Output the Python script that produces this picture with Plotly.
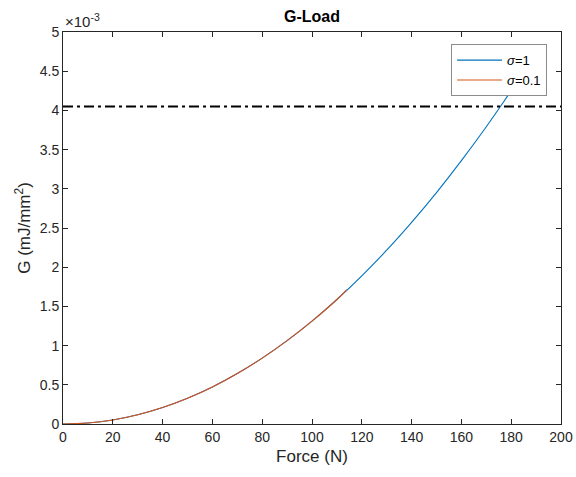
import plotly.graph_objects as go

# Force (N)
force_s1 = [0, 10, 20, 30, 40, 50, 60, 70, 80, 90, 100, 110, 120, 130, 140, 150, 160, 170, 180, 182]
# G (x1e-3 mJ/mm^2), sigma = 1
g_s1 = [0, 0.013, 0.052, 0.118, 0.21, 0.328, 0.472, 0.643, 0.84, 1.063, 1.312, 1.588, 1.89,
        2.217, 2.572, 2.952, 3.359, 3.792, 4.25, 4.34]
# sigma = 0.1
force_s01 = [0, 10, 20, 30, 40, 50, 60, 70, 80, 90, 100, 110, 114]
g_s01 = [0, 0.013, 0.052, 0.118, 0.21, 0.328, 0.472, 0.643, 0.84, 1.063, 1.312, 1.588, 1.715]
# critical G level
g_crit = 4.05
x_range = [0, 200]

x_ticks = list(range(0, 201, 20))
y_ticks = [0, 0.5, 1, 1.5, 2, 2.5, 3, 3.5, 4, 4.5, 5]
y_ticktext = ["0", "0.5", "1", "1.5", "2", "2.5", "3", "3.5", "4", "4.5", "5"]

font = "Liberation Sans, Arial, sans-serif"
gray = "#262626"

fig = go.Figure()
fig.add_trace(go.Scatter(x=force_s1, y=g_s1, mode="lines", name="<i>σ</i>=1",
                         line=dict(color="#0072BD", width=1.1, shape="spline")))
fig.add_trace(go.Scatter(x=force_s01, y=g_s01, mode="lines", name="<i>σ</i>=0.1",
                         line=dict(color="#D95319", width=1.1, shape="spline")))
fig.add_trace(go.Scatter(x=x_range, y=[g_crit, g_crit], mode="lines", showlegend=False,
                         line=dict(color="black", width=2, dash="10px,4px,3px,4px")))

axis_common = dict(showline=True, linecolor=gray, linewidth=1, mirror="ticks",
                   ticks="inside", ticklen=5, tickcolor=gray, showgrid=False, zeroline=False,
                   automargin=False, ticklabeloverflow="allow",
                   tickfont=dict(family=font, size=14, color=gray))

fig.update_layout(
    width=576, height=477,
    margin=dict(l=63, r=15, t=32, b=53),
    paper_bgcolor="white", plot_bgcolor="white",
    title=dict(text="<b>G-Load</b>", x=312 / 576, xanchor="center", y=1 - 16 / 477, yanchor="middle",
               font=dict(family=font, size=16, color="black"), automargin=False),
    xaxis=dict(range=x_range, tickvals=x_ticks,
               title=dict(text="Force (N)", font=dict(family=font, size=17, color=gray), standoff=6),
               **axis_common),
    yaxis=dict(range=[0, 5], tickvals=y_ticks, ticktext=y_ticktext,
               title=dict(text="G (mJ/mm<sup>2</sup>)", font=dict(family=font, size=17, color=gray), standoff=4),
               **axis_common),
    legend=dict(x=0.972, y=0.969, xanchor="right", yanchor="top",
                bgcolor="white", bordercolor="#8c8c8c", borderwidth=1,
                font=dict(family=font, size=13, color="black"),
                itemwidth=45, tracegroupgap=0),
    showlegend=True,
)

fig.add_annotation(text="×10<sup>-3</sup>", xref="paper", yref="paper", x=0.0, y=1.0,
                   xanchor="left", yanchor="bottom", showarrow=False, xshift=0,
                   font=dict(family=font, size=15, color=gray))

fig.write_html("out.html", config={"displayModeBar": False},
               post_script="document.body.style.margin='0';document.body.style.overflow='hidden';")
